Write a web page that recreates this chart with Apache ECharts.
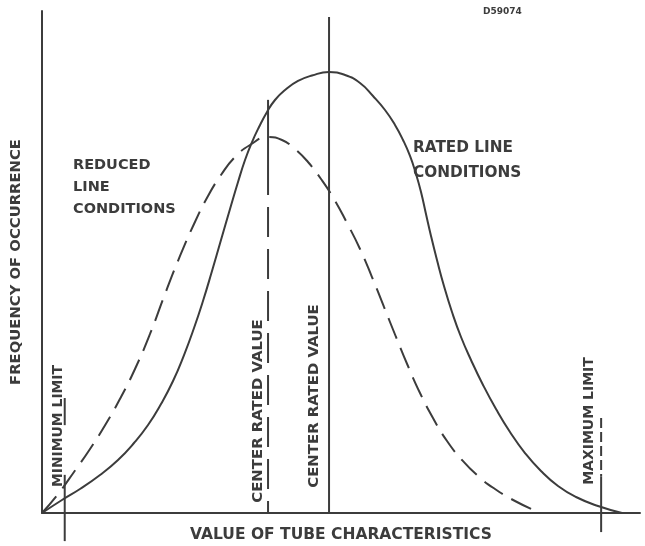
<!DOCTYPE html>
<html>
<head>
<meta charset="utf-8">
<script src="https://cdn.jsdelivr.net/npm/echarts@6/dist/echarts.min.js"></script>
<style>
  html, body { margin: 0; padding: 0; background: #fff; }
  #chart { width: 645px; height: 546px; }
</style>
</head>
<body>
<div id="chart"></div>
<script>
// Distribution of a tube characteristic under rated and reduced line conditions
// (both axes in relative units, 0..100).

// Rated line conditions (solid curve)
const ratedX = [0, 3.34, 6.35, 9.70, 12.71, 15.38, 17.73, 19.90, 21.91, 23.75, 25.42, 26.92, 28.43, 29.93,
                31.44, 32.78, 33.95, 35.12, 36.29, 37.63, 38.96, 40.64, 42.81, 45.15, 48.0, 50.67, 53.18,
                55.35, 57.36, 59.03, 60.37, 61.54, 62.54, 63.38, 64.21, 65.05, 66.05, 67.22, 68.56, 70.07,
                71.74, 73.75, 75.92, 78.26, 80.77, 83.44, 86.29, 89.30, 92.98, 96.99];
const ratedY = [0, 2.59, 4.78, 7.57, 10.56, 13.94, 17.53, 21.71, 26.29, 31.47, 36.85, 42.23, 48.21, 54.38,
                60.56, 65.94, 70.32, 73.90, 76.89, 79.88, 82.27, 84.26, 86.06, 87.15, 87.85, 87.25, 85.66,
                83.07, 80.28, 77.29, 74.30, 71.12, 67.53, 63.94, 59.56, 55.18, 50.40, 45.22, 40.04, 35.06,
                30.48, 25.50, 20.72, 16.14, 11.95, 8.37, 5.38, 3.19, 1.39, 0];

// Reduced line conditions (dashed curve)
const reducedX = [0, 2.68, 5.35, 8.03, 10.87, 13.21, 15.55, 18.06, 20.57, 23.08, 25.42, 27.76, 29.93, 32.27,
                  34.78, 37.8, 40.13, 42.31, 44.48, 46.66, 48.83, 51.00, 53.18, 55.18, 57.19, 59.20, 61.20,
                  63.21, 65.38, 67.73, 70.23, 72.91, 75.75, 79.10, 83.28];
const reducedY = [0, 3.78, 8.17, 12.75, 18.13, 23.11, 28.69, 35.66, 43.63, 51.20, 57.57, 63.15, 67.33, 70.92,
                  73.31, 74.90, 74.30, 72.51, 69.92, 66.53, 62.55, 57.77, 52.59, 47.01, 41.04, 35.06, 29.28,
                  23.90, 18.92, 14.34, 10.56, 7.37, 4.78, 2.39, 0];

// Reference positions on the characteristic axis
const minimumLimit = 3.8;
const reducedCenter = 37.8;
const ratedCenter = 48.0;
const maximumLimit = 93.5;

// Vertical extents of the reference lines [top, bottom]
const minimumLimitSpans = [[22.9, 17.5], [7.6, -5.6]];
const reducedCenterSolid = [82.3, 69.3];
const reducedCenterDashed = [69.3, 0];
const ratedCenterSpan = [98.8, 0];
const maximumLimitDashed = [18.9, 7.2];
const maximumLimitSolid = [7.2, -3.8];

const zip = (xs, ys) => xs.map((x, i) => [x, ys[i]]);
const vline = (x, span) => [[x, span[0]], [x, span[1]]];

const INK = '#3c3c3c';
const FONT = '"DejaVu Sans", "Liberation Sans", sans-serif';

function lineSeries(data, opts) {
  return Object.assign({
    type: 'line',
    data: data,
    symbol: 'none',
    clip: false,
    silent: true,
    lineStyle: { color: INK, width: 2, type: 'solid' }
  }, opts || {});
}

const chart = echarts.init(document.getElementById('chart'), null, { renderer: 'canvas' });

const series = [
  lineSeries(zip(ratedX, ratedY), { smooth: 0.5 }),
  lineSeries(zip(reducedX, reducedY), { smooth: 0.5, lineStyle: { color: INK, width: 2, type: [22, 10] } }),
  lineSeries(vline(minimumLimit, minimumLimitSpans[0])),
  lineSeries(vline(minimumLimit, minimumLimitSpans[1])),
  lineSeries(vline(reducedCenter, reducedCenterSolid)),
  lineSeries(vline(reducedCenter, reducedCenterDashed), { lineStyle: { color: INK, width: 2, type: [30, 12] } }),
  lineSeries(vline(ratedCenter, ratedCenterSpan)),
  lineSeries(vline(maximumLimit, maximumLimitDashed), { lineStyle: { color: INK, width: 2, type: [10, 4] } }),
  lineSeries(vline(maximumLimit, maximumLimitSolid))
];

const rotated = (text, x, y, size) => ({
  type: 'text',
  x: x, y: y,
  rotation: Math.PI / 2,
  style: { text: text, font: 'bold ' + size + 'px ' + FONT, fill: INK, align: 'center', verticalAlign: 'middle' }
});
const plain = (text, x, y, size, lh) => ({
  type: 'text',
  x: x, y: y,
  style: { text: text, font: 'bold ' + size + 'px ' + FONT, fill: INK, lineHeight: lh, align: 'left', verticalAlign: 'top' }
});

chart.setOption({
  backgroundColor: '#ffffff',
  animation: false,
  grid: { left: 42, right: 5, top: 11, bottom: 33, containLabel: false, outerBoundsMode: 'none' },
  xAxis: {
    type: 'value', min: 0, max: 100,
    name: 'VALUE OF TUBE CHARACTERISTICS',
    nameLocation: 'middle', nameGap: 14,
    nameTextStyle: { color: INK, fontSize: 15.5, fontWeight: 'bold', fontFamily: FONT },
    axisLine: { show: true, onZero: false, lineStyle: { color: INK, width: 2 } },
    axisTick: { show: false }, axisLabel: { show: false }, splitLine: { show: false }
  },
  yAxis: {
    type: 'value', min: 0, max: 100,
    name: 'FREQUENCY OF OCCURRENCE',
    nameLocation: 'middle', nameGap: 18, nameRotate: 90,
    nameTextStyle: { color: INK, fontSize: 14.8, fontWeight: 'bold', fontFamily: FONT },
    axisLine: { show: true, onZero: false, lineStyle: { color: INK, width: 2 } },
    axisTick: { show: false }, axisLabel: { show: false }, splitLine: { show: false }
  },
  series: series,
  graphic: [
    plain('D59074', 483, 7, 9),
    plain('RATED LINE\nCONDITIONS', 413, 136, 15.3, 25),
    plain('REDUCED\nLINE\nCONDITIONS', 73, 154, 14.5, 22),
    rotated('MINIMUM LIMIT', 58, 426, 13.9),
    rotated('CENTER RATED VALUE', 258, 411, 14.9),
    rotated('CENTER RATED VALUE', 314, 396, 14.9),
    rotated('MAXIMUM LIMIT', 589, 421, 14)
  ]
});
</script>
</body>
</html>
